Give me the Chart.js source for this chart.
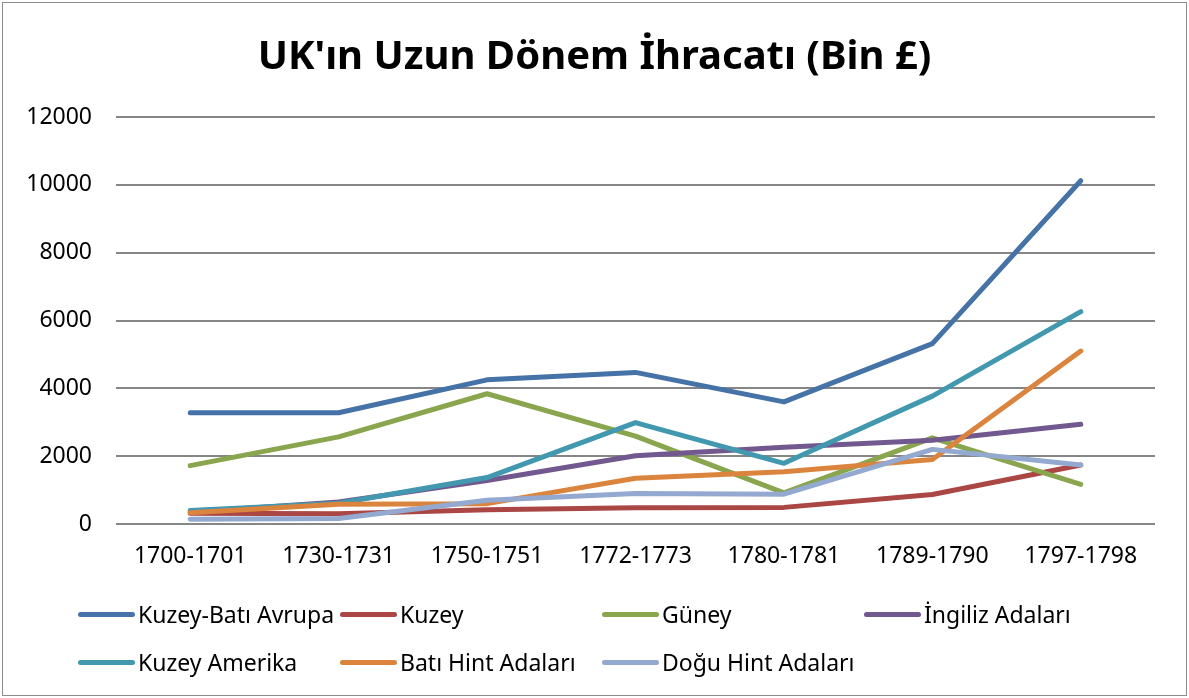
<!DOCTYPE html>
<html>
<head>
<meta charset="utf-8">
<script src="https://cdn.jsdelivr.net/npm/chart.js"></script>
<style>
    body { margin: 0; background: #fff; }
    #wrap { position: relative; width: 1189px; height: 698px; }
    #frame { position: absolute; left: 2px; top: 2px; right: 2px; bottom: 2px; border: 1px solid #8c8c8c; pointer-events: none; }
    #legend {
        position: absolute; left: 78px; top: 590px;
        display: grid; grid-template-columns: repeat(4, 262px);
        font-family: 'Noto Sans', sans-serif; font-size: 23px; color: #000;
    }
    .item { display: flex; align-items: center; height: 48px; white-space: nowrap; }
    .swatch { width: 57px; height: 5px; border-radius: 3px; margin-right: 3px; flex: none; }
</style>
</head>
<body>
<div id="wrap">
    <canvas id="exportChart" width="1189" height="698"></canvas>
    <div id="legend"></div>
    <div id="frame"></div>
</div>
<script>
const periods = ['1700-1701', '1730-1731', '1750-1751', '1772-1773', '1780-1781', '1789-1790', '1797-1798'];

const seriesNames = ['Kuzey-Batı Avrupa', 'Kuzey', 'Güney', 'İngiliz Adaları', 'Kuzey Amerika', 'Batı Hint Adaları', 'Doğu Hint Adaları'];
const seriesColors = ['#4572A7', '#AA4643', '#89A54E', '#71588F', '#4198AF', '#DB843D', '#93A9CF'];

const kuzeyBatiAvrupa = [3280, 3280, 4250, 4470, 3600, 5320, 10120];
const kuzey = [320, 300, 420, 480, 490, 870, 1740];
const guney = [1720, 2570, 3840, 2590, 920, 2540, 1170];
const ingilizAdalari = [350, 650, 1280, 2010, 2260, 2470, 2940];
const kuzeyAmerika = [400, 610, 1370, 2990, 1790, 3770, 6260];
const batiHintAdalari = [330, 580, 600, 1350, 1540, 1900, 5100];
const doguHintAdalari = [140, 160, 700, 900, 880, 2200, 1740];

const yTicks = [0, 2000, 4000, 6000, 8000, 10000, 12000];

const allSeries = [kuzeyBatiAvrupa, kuzey, guney, ingilizAdalari, kuzeyAmerika, batiHintAdalari, doguHintAdalari];

const FONT = "'Noto Sans', sans-serif";

const datasets = allSeries.map((values, i) => ({
    label: seriesNames[i],
    data: values,
    borderColor: seriesColors[i],
    backgroundColor: seriesColors[i],
    borderWidth: 5,
    pointRadius: 0,
    borderCapStyle: 'round',
    borderJoinStyle: 'round',
    tension: 0,
    // later series drawn on top, like the original
    order: allSeries.length - i
}));

const chart = new Chart(document.getElementById('exportChart'), {
    type: 'line',
    data: { labels: periods, datasets },
    options: {
        responsive: false,
        animation: false,
        layout: { padding: { top: 10, right: 0, bottom: 114, left: 0 } },
        plugins: {
            legend: { display: false },
            tooltip: { enabled: false },
            title: {
                display: true,
                text: "UK'ın Uzun Dönem İhracatı (Bin £)",
                color: '#000',
                font: { family: FONT, size: 40, weight: 'bold' },
                padding: { top: 24, bottom: 35 }
            }
        },
        scales: {
            x: {
                offset: true,
                grid: { display: false, drawTicks: false },
                border: { display: false },
                ticks: { color: '#000', font: { family: FONT, size: 23 }, padding: 19, maxRotation: 0 },
                afterFit: scale => { scale.height = 60; }
            },
            y: {
                min: 0,
                max: 12000,
                afterBuildTicks: scale => { scale.ticks = yTicks.map(v => ({ value: v })); },
                grid: { color: '#868686', lineWidth: 2, drawTicks: false },
                border: { display: false },
                ticks: { color: '#000', font: { family: FONT, size: 23 }, padding: 24, callback: v => String(v) },
                afterFit: scale => { scale.width = 116; }
            },
            // empty right-hand spacer so the title stays centred on the whole chart
            spacer: {
                position: 'right',
                grid: { display: false, drawTicks: false },
                border: { display: false },
                ticks: { display: false },
                afterFit: scale => { scale.width = 34; }
            }
        }
    }
});

// Excel-style legend: 4 fixed columns
const legendEl = document.getElementById('legend');
chart.data.datasets.forEach(ds => {
    const item = document.createElement('div');
    item.className = 'item';
    const sw = document.createElement('span');
    sw.className = 'swatch';
    sw.style.background = ds.borderColor;
    const txt = document.createElement('span');
    txt.textContent = ds.label;
    item.appendChild(sw);
    item.appendChild(txt);
    legendEl.appendChild(item);
});
</script>
</body>
</html>
